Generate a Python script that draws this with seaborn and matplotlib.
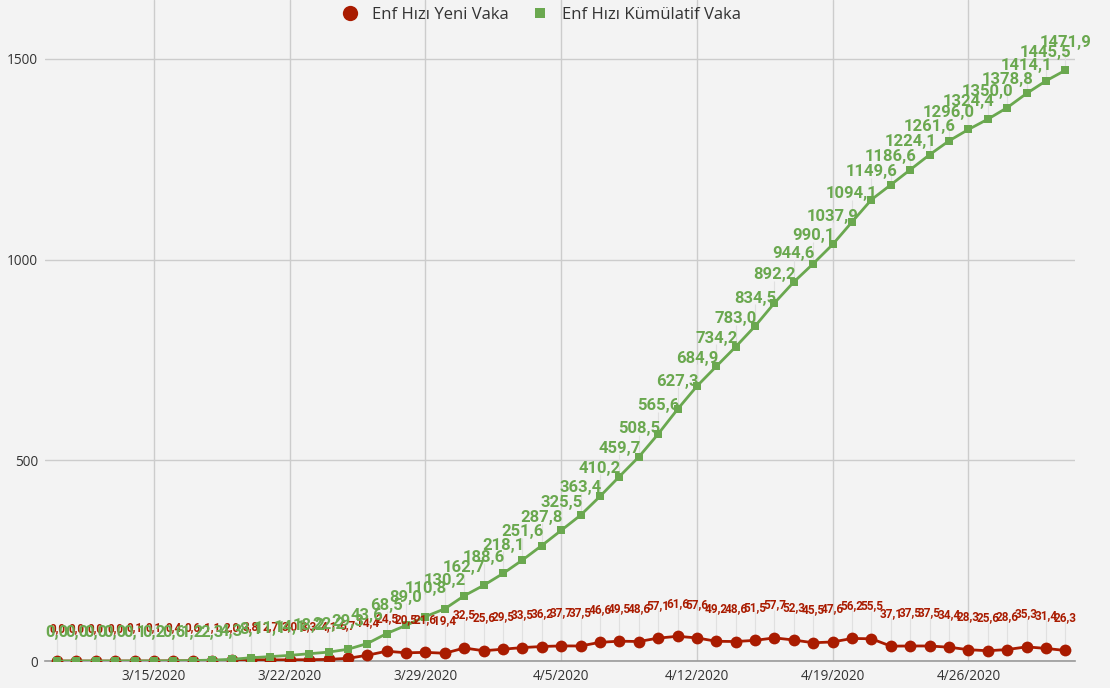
import numpy as np
import pandas as pd
import matplotlib
matplotlib.use("Agg")
import matplotlib.pyplot as plt
from matplotlib.lines import Line2D
import seaborn as sns

sns.set_theme(style="whitegrid")
plt.rcParams['font.family'] = ['Open Sans', 'DejaVu Sans']

# data (3/10/2020 .. 5/1/2020)
dates = pd.date_range("2020-03-10", "2020-05-01", freq="D")
yeni_vaka = [0.0, 0.0, 0.0, 0.0, 0.1, 0.1, 0.4, 0.6, 1.1, 2.0,
             3.8, 2.7, 3.0, 3.3, 4.1, 6.7, 14.4, 24.5, 20.5, 21.6,
             19.4, 32.5, 25.6, 29.5, 33.5, 36.2, 37.7, 37.5, 46.6, 49.5,
             48.6, 57.1, 61.6, 57.6, 49.2, 48.6, 51.5, 57.7, 52.3, 45.5,
             47.6, 56.2, 55.5, 37.1, 37.5, 37.5, 34.4, 28.3, 25.6, 28.6,
             35.3, 31.4, 26.3]
kumulatif_vaka = [0.0, 0.0, 0.0, 0.0, 0.1, 0.2, 0.6, 1.2, 2.3, 4.3,
                  8.1, 11.1, 14.1, 18.2, 22.2, 29.3, 43.6, 68.5, 89.0, 110.8,
                  130.2, 162.7, 188.6, 218.1, 251.6, 287.8, 325.5, 363.4, 410.2, 459.7,
                  508.5, 565.6, 627.3, 684.9, 734.2, 783.0, 834.5, 892.2, 944.6, 990.1,
                  1037.9, 1094.1, 1149.6, 1186.6, 1224.1, 1261.6, 1296.0, 1324.4, 1350.0, 1378.8,
                  1414.1, 1445.5, 1471.9]
series_names = ["Enf Hızı Yeni Vaka", "Enf Hızı Kümülatif Vaka"]

red = "#a91b00"
green = "#6aa84f"
bg = "#f3f3f3"

df = pd.DataFrame({"date": dates, "yeni": yeni_vaka, "kum": kumulatif_vaka})

fig = plt.figure(figsize=(11.1, 6.88), dpi=100, facecolor=bg)
ax = fig.add_axes([0.0405, 0.0392, 0.928, 0.9608])
ax.set_facecolor(bg)

# leader lines from point to label
ax.vlines(df.date, df.yeni, df.yeni + 70, color="#e0e0e0", lw=0.8, zorder=1)
ax.vlines(df.date, df.kum, df.kum + 55, color="#e0e0e0", lw=0.8, zorder=1)

sns.lineplot(data=df, x="date", y="yeni", ax=ax, color=red, lw=2,
             marker="o", markersize=8.5, markeredgewidth=0, zorder=3)
sns.lineplot(data=df, x="date", y="kum", ax=ax, color=green, lw=2,
             marker="s", markersize=5.5, markeredgewidth=0, zorder=4)

def fmt(v):
    return f"{v:.1f}".replace(".", ",")

for d, v in zip(df.date, df.yeni):
    ax.text(d, v + 82, fmt(v), ha="center", va="center", color=red,
            fontsize=8.5, fontweight="bold", family=["Roboto", "DejaVu Sans"], zorder=5)
for d, v in zip(df.date, df.kum):
    ax.text(d, v + 70, fmt(v), ha="center", va="center", color=green,
            fontsize=12, fontweight="bold", family=["Roboto", "DejaVu Sans"], zorder=6)

ax.set_xlim(dates[0] - pd.Timedelta(hours=15), dates[-1] + pd.Timedelta(hours=12))
ax.set_ylim(0, 1647)
ax.set_yticks([0, 500, 1000, 1500])
ax.set_yticklabels(["0", "500", "1000", "1500"])
ticks = pd.date_range("2020-03-15", "2020-04-26", freq="7D")
ax.set_xticks(ticks)
ax.set_xticklabels([f"{t.month}/{t.day}/{t.year}" for t in ticks])
ax.tick_params(axis="both", labelsize=9.8, colors="#333333", length=0, pad=5)
ax.tick_params(axis="x", pad=6)
ax.set_xlabel("")
ax.set_ylabel("")
ax.grid(True, color="#cccccc", lw=1)
for s in ["top", "right", "left"]:
    ax.spines[s].set_visible(False)
ax.spines["bottom"].set_color("#999999")
ax.spines["bottom"].set_linewidth(1.2)

handles = [Line2D([], [], ls="", marker="o", markersize=11, color=red, markeredgewidth=0),
           Line2D([], [], ls="", marker="s", markersize=7, color=green, markeredgewidth=0)]
ax.legend(handles, series_names, loc="upper center", bbox_to_anchor=(0.478, 1.012),
          ncol=2, frameon=False, fontsize=12, handletextpad=0.3, columnspacing=0.9,
          labelcolor="#333333")

fig.savefig("out.png", dpi=100, facecolor=bg)
